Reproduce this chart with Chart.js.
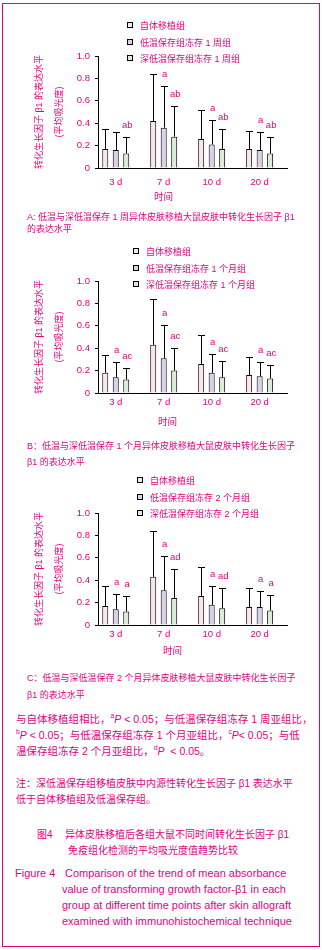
<!DOCTYPE html>
<html>
<head>
<meta charset="utf-8">
<script src="https://cdn.jsdelivr.net/npm/chart.js@4"></script>
<style>
body { margin: 0; width: 322px; height: 950px; background: #fff; position: relative; overflow: hidden;
       font-family: "Liberation Sans", "Noto Sans CJK SC", sans-serif; color: #e4007f; }
#frame { position: absolute; left: 2px; top: 3px; width: 318px; height: 944px; border: 1px solid #e4007f; box-sizing: border-box; }
canvas { position: absolute; left: 0; }
.t { position: absolute; white-space: nowrap; line-height: 14px; z-index: 2; }
.lg { position: absolute; font-size: 9px; line-height: 12px; white-space: nowrap; z-index: 2; }
.lg i { display: inline-block; width: 4px; height: 4px; border: 1px solid #000; margin-right: 7px; vertical-align: 1px; }
sup { font-size: 65%; vertical-align: 5px; line-height: 0; }
</style>
</head>
<body>
<div id="frame"></div>
<canvas id="chartA" width="322" height="210" style="top:0px"></canvas>
<canvas id="chartB" width="322" height="210" style="top:225px"></canvas>
<canvas id="chartC" width="322" height="210" style="top:457px"></canvas>

<div class="t" style="left:154px;top:190px;font-size:9.5px">时间</div>
<div class="t" style="left:158px;top:415px;font-size:9.5px">时间</div>
<div class="t" style="left:163px;top:644px;font-size:9.5px">时间</div>

<div class="t" style="left:27px;top:210px;font-size:9px">A: 低温与深低温保存 1 周异体皮肤移植大鼠皮肤中转化生长因子 β1</div>
<div class="t" style="left:27px;top:222px;font-size:9px">的表达水平</div>
<div class="t" style="left:27px;top:439px;font-size:9px">B：低温与深低温保存 1 个月异体皮肤移植大鼠皮肤中转化生长因子</div>
<div class="t" style="left:27px;top:455px;font-size:9px">β1 的表达水平</div>
<div class="t" style="left:27px;top:671px;font-size:9px">C：低温与深低温保存 2 个月异体皮肤移植大鼠皮肤中转化生长因子</div>
<div class="t" style="left:27px;top:688px;font-size:9px">β1 的表达水平</div>

<div class="t" style="left:16px;top:712px;font-size:10.5px">与自体移植组相比，<sup>a</sup><i>P</i> &lt; 0.05；与低温保存组冻存 1 周亚组比，</div>
<div class="t" style="left:16px;top:728px;font-size:10.5px"><sup>b</sup><i>P</i> &lt; 0.05；与低温保存组冻存 1 个月亚组比，<sup>c</sup><i>P</i>&lt; 0.05；与低</div>
<div class="t" style="left:16px;top:744px;font-size:10.5px">温保存组冻存 2 个月亚组比，<sup>d</sup><i>P</i> &nbsp;&lt; 0.05。</div>

<div class="t" style="left:16px;top:777px;font-size:10px">注：深低温保存组移植皮肤中内源性转化生长因子 β1 表达水平</div>
<div class="t" style="left:16px;top:793px;font-size:10px">低于自体移植组及低温保存组。</div>

<div class="t" style="left:37px;top:828px;font-size:10px">图4</div>
<div class="t" style="left:65px;top:828px;font-size:10px">异体皮肤移植后各组大鼠不同时间转化生长因子 β1</div>
<div class="t" style="left:68px;top:844px;font-size:10px">免疫组化检测的平均吸光度值趋势比较</div>

<div class="t" style="left:15px;top:866px;font-size:11px">Figure 4</div>
<div class="t" style="left:65px;top:866px;font-size:11px">Comparison of the trend of mean absorbance</div>
<div class="t" style="left:62px;top:882px;font-size:11px">value of transforming growth factor-β1 in each</div>
<div class="t" style="left:62px;top:898px;font-size:11px">group at different time points after skin allograft</div>
<div class="t" style="left:62px;top:914px;font-size:11px">examined with immunohistochemical technique</div>

<script>
// categories and tick labels
const days = ['3 d', '7 d', '10 d', '20 d'];
const yTickLabels = ['0', '0.2', '0.4', '0.6', '0.8', '1.0'];

// legend names
const legendA = ['自体移植组', '低温保存组冻存 1 周组', '深低温保存组冻存 1 周组'];
const legendB = ['自体移植组', '低温保存组冻存 1 个月组', '深低温保存组冻存 1 个月组'];
const legendC = ['自体移植组', '低温保存组冻存 2 个月组', '深低温保存组冻存 2 个月组'];

// panel A: 1 week
const autoA = [0.17, 0.42, 0.26, 0.17];
const autoAErr = [0.35, 0.84, 0.52, 0.33];
const lowA = [0.16, 0.36, 0.21, 0.16];
const lowAErr = [0.32, 0.73, 0.43, 0.32];
const deepA = [0.13, 0.28, 0.17, 0.13];
const deepAErr = [0.28, 0.55, 0.35, 0.28];
const lowAMarks = ['', 'a', 'a', 'a'];
const deepAMarks = ['ab', 'ab', 'ab', 'ab'];

// panel B: 1 month
const autoB = [0.18, 0.43, 0.26, 0.16];
const autoBErr = [0.34, 0.84, 0.52, 0.32];
const lowB = [0.14, 0.31, 0.18, 0.15];
const lowBErr = [0.28, 0.61, 0.35, 0.28];
const deepB = [0.12, 0.20, 0.14, 0.13];
const deepBErr = [0.22, 0.40, 0.29, 0.25];
const lowBMarks = ['a', 'a', 'a', 'a'];
const deepBMarks = ['ac', 'ac', 'ac', 'ac'];

// panel C: 2 months
const autoC = [0.17, 0.43, 0.26, 0.16];
const autoCErr = [0.35, 0.84, 0.52, 0.33];
const lowC = [0.14, 0.31, 0.18, 0.16];
const lowCErr = [0.28, 0.62, 0.35, 0.30];
const deepC = [0.12, 0.24, 0.15, 0.13];
const deepCErr = [0.26, 0.50, 0.33, 0.27];
const lowCMarks = ['a', 'a', 'a', 'a'];
const deepCMarks = ['a', 'ad', 'ad', 'a'];

const PINK = '#e4007f';
const FILLS = ['#fce4ef', '#d9d2ea', '#d9edd6'];
const FONT = "'Liberation Sans', 'Noto Sans CJK SC', sans-serif";

Chart.defaults.font.family = FONT;

// error bars + significance letters
const errorBars = {
    id: 'errorBars',
    afterDatasetsDraw(chart) {
        const ctx = chart.ctx;
        const yScale = chart.scales.y;
        ctx.save();
        chart.data.datasets.forEach((ds, di) => {
            const meta = chart.getDatasetMeta(di);
            meta.data.forEach((bar, i) => {
                const top = Math.round(yScale.getPixelForValue(ds.errUp[i])) + 0.5;
                const x = Math.round(bar.x) + 0.5;
                ctx.strokeStyle = '#000';
                ctx.lineWidth = 1;
                ctx.beginPath();
                ctx.moveTo(x, bar.y);
                ctx.lineTo(x, top);
                ctx.moveTo(x - 3.5, top);
                ctx.lineTo(x + 3.5, top);
                ctx.stroke();
                if (ds.marks[i]) {
                    ctx.fillStyle = PINK;
                    ctx.font = '9.5px ' + FONT;
                    ctx.textAlign = 'center';
                    ctx.textBaseline = 'middle';
                    ctx.fillText(ds.marks[i], bar.x + 1, top - 12);
                }
            });
        });
        ctx.restore();
    }
};

function addLegend(names, top, left) {
    names.forEach((n, i) => {
        const d = document.createElement('div');
        d.className = 'lg';
        d.style.left = left + 'px';
        d.style.top = (top + i * 16.5 - 6) + 'px';
        d.innerHTML = '<i style="background:' + FILLS[i] + '"></i>' + n;
        document.body.appendChild(d);
    });
}

function makePanel(id, series, errs, marks, xPad) {
    const datasets = series.map((vals, k) => ({
        data: vals.map((v, i) => ({ x: i, y: v })),
        backgroundColor: FILLS[k],
        borderColor: '#000',
        borderWidth: 1,
        categoryPercentage: 0.656,
        barPercentage: 0.571,
        errUp: errs[k],
        marks: marks[k]
    }));

    new Chart(document.getElementById(id), {
        type: 'bar',
        data: { datasets },
        plugins: [errorBars],
        options: {
            responsive: false,
            animation: false,
            layout: { padding: { top: 56, left: 0, right: 35, bottom: 2 } },
            plugins: { legend: { display: false }, tooltip: { enabled: false } },
            scales: {
                x: {
                    type: 'linear',
                    offset: false,
                    min: -0.37,
                    max: 3.57,
                    afterBuildTicks: s => { s.ticks = days.map((d, i) => ({ value: i })); },
                    afterFit: s => { s.height = 40; },
                    grid: { display: false, drawTicks: false },
                    border: { display: true, color: '#000', width: 1 },
                    ticks: { color: PINK, font: { size: 9.5 }, padding: xPad, maxRotation: 0, autoSkip: false,
                             callback: v => days[v] }
                },
                y: {
                    min: 0,
                    max: 1,
                    afterFit: s => { s.width = 98; },
                    grid: { drawOnChartArea: false, drawTicks: true, tickLength: 3, color: '#000' },
                    border: { display: true, color: '#000', width: 1 },
                    ticks: { stepSize: 0.2, color: PINK, font: { size: 9.5 }, padding: 5,
                             callback: (v, i) => yTickLabels[i] },
                    title: { display: true, text: ['转化生长因子 β1 的表达水平', '(平均吸光度)'], color: PINK,
                             font: { size: 9, lineHeight: '20px' }, padding: { top: 30, bottom: 0 } }
                }
            }
        }
    });
}

makePanel('chartA', [autoA, lowA, deepA], [autoAErr, lowAErr, deepAErr], [[], lowAMarks, deepAMarks], 9);
makePanel('chartB', [autoB, lowB, deepB], [autoBErr, lowBErr, deepBErr], [[], lowBMarks, deepBMarks], 4);
makePanel('chartC', [autoC, lowC, deepC], [autoCErr, lowCErr, deepCErr], [[], lowCMarks, deepCMarks], 4);

addLegend(legendA, 26, 127);
addLegend(legendB, 252, 133);
addLegend(legendC, 481, 137);
</script>
</body>
</html>
